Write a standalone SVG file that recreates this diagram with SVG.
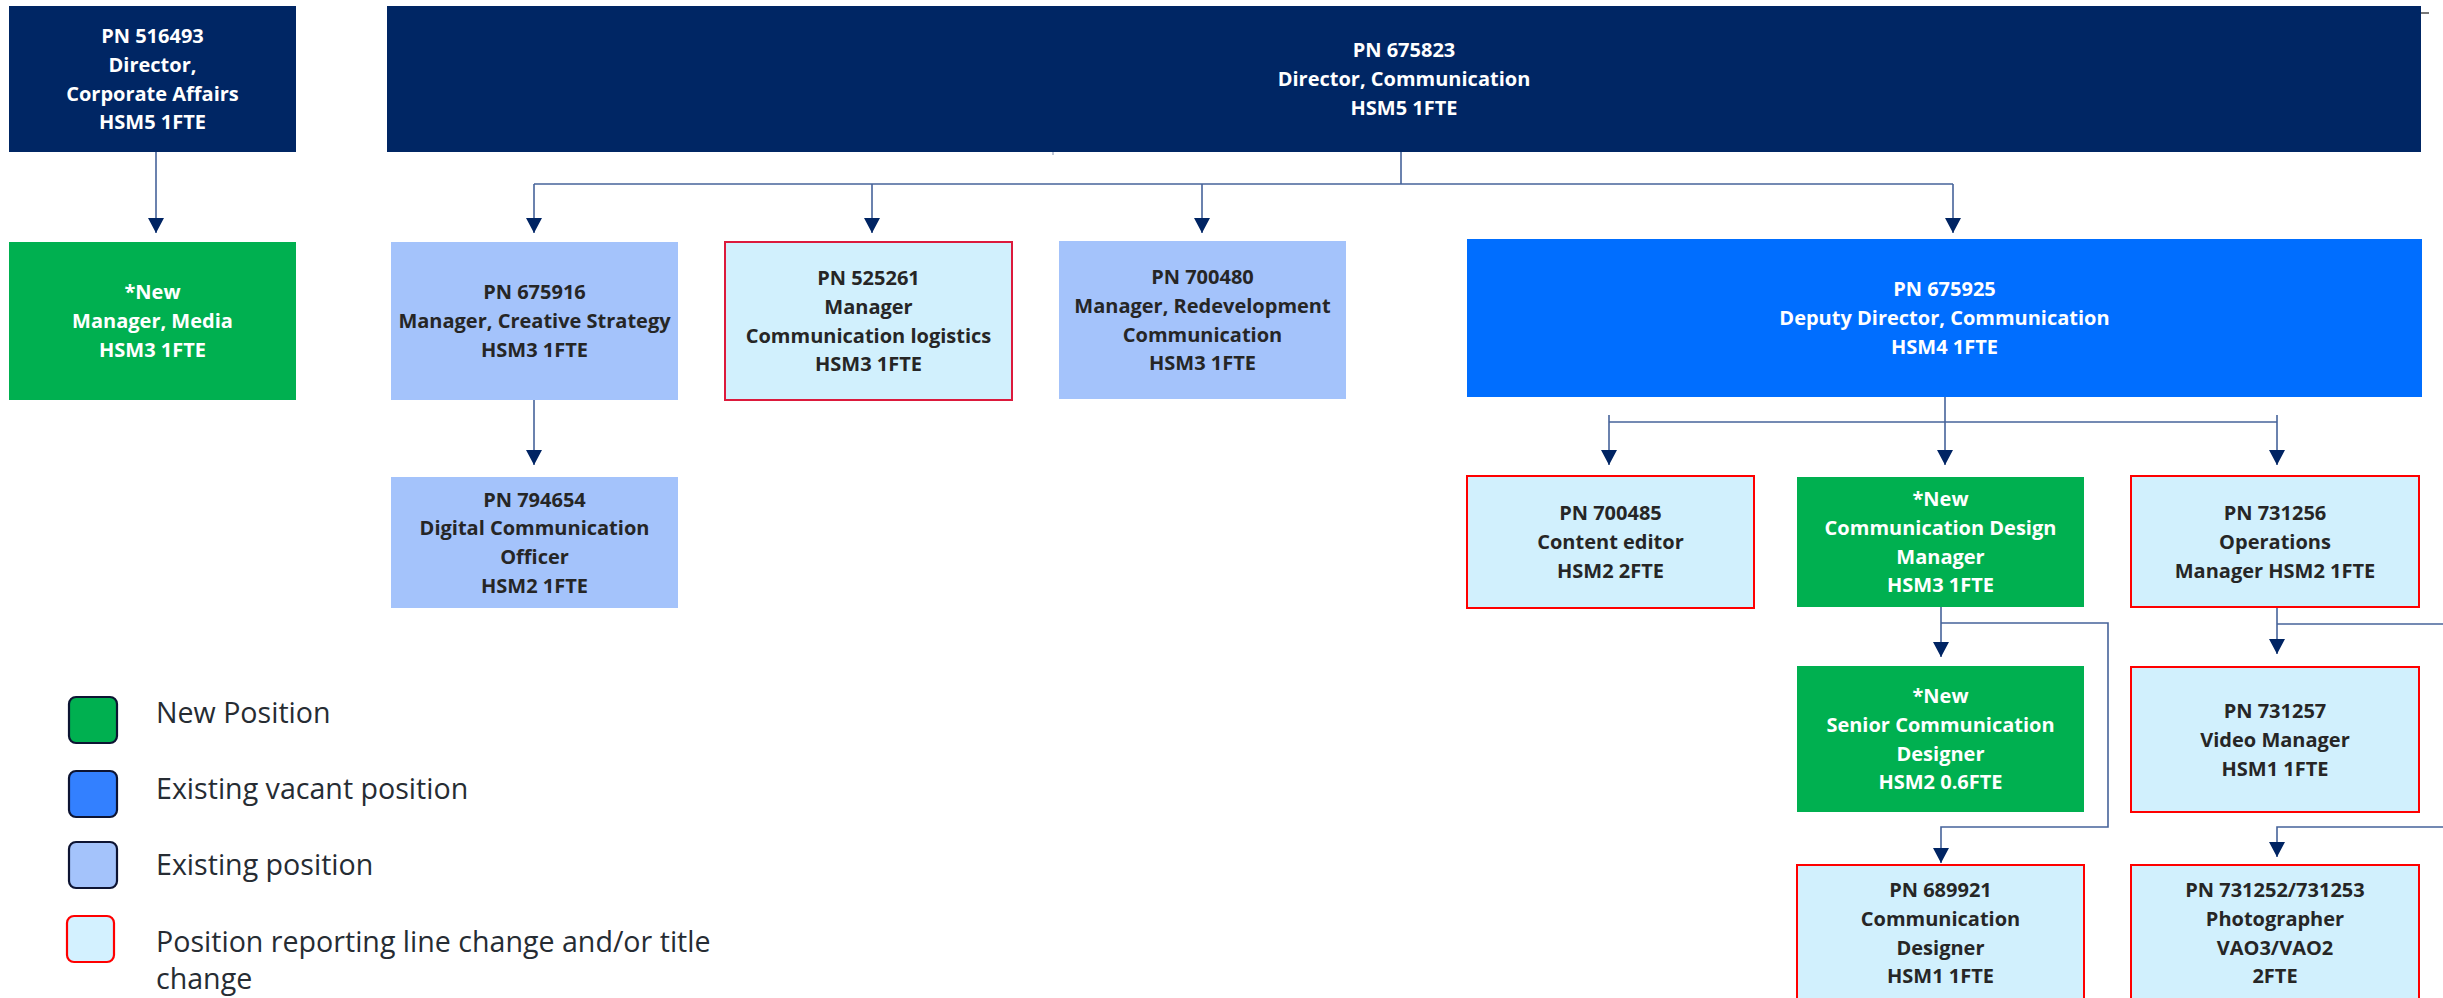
<svg xmlns="http://www.w3.org/2000/svg" width="2443" height="998" viewBox="0 0 2443 998">
<style>
.t{font-family:"Open Sans","Liberation Sans",sans-serif;font-weight:700;font-size:20px;text-anchor:middle}
.w{fill:#ffffff}
.d{fill:#262626}
.navy{fill:#002664}
.green{fill:#00B050}
.exist{fill:#A4C3FB}
.vac{fill:#006EFF}
.chg{fill:#D1F0FD;stroke:#FF0000;stroke-width:2}
.con{fill:none;stroke:#46639A;stroke-width:1.6}
.lg{font-family:"Open Sans","Liberation Sans",sans-serif;font-size:28.6px;fill:#262C33}
.sw{stroke:#0D1433;stroke-width:2.2}
</style>
<defs>
<marker id="ah" markerUnits="userSpaceOnUse" viewBox="0 0 15 16" refX="15" refY="8" markerWidth="15" markerHeight="16" orient="auto">
<path d="M0,0 L15,8 L0,16 z" fill="#002463"/>
</marker>
</defs>
<rect width="2443" height="998" fill="#ffffff"/>

<g id="connectors">
<path class="con" d="M156,152 V233" marker-end="url(#ah)"/>
<path class="con" d="M1401,152 V184"/>
<path class="con" d="M534,184 H1953"/>
<path class="con" d="M534,184 V233" marker-end="url(#ah)"/>
<path class="con" d="M872,184 V233" marker-end="url(#ah)"/>
<path class="con" d="M1202,184 V233" marker-end="url(#ah)"/>
<path class="con" d="M1953,184 V233" marker-end="url(#ah)"/>
<path class="con" d="M534,400 V465" marker-end="url(#ah)"/>
<path class="con" d="M1945,397 V465" marker-end="url(#ah)"/>
<path class="con" d="M1609,422 H2277"/>
<path class="con" d="M1609,415 V465" marker-end="url(#ah)"/>
<path class="con" d="M2277,415 V465" marker-end="url(#ah)"/>
<path class="con" d="M1941,607 V657" marker-end="url(#ah)"/>
<path class="con" d="M1941,623 H2108 V827 H1941 V863" marker-end="url(#ah)"/>
<path class="con" d="M2277,607 V654" marker-end="url(#ah)"/>
<path class="con" d="M2277,624 H2443"/>
<path class="con" d="M2443,827 H2277 V857" marker-end="url(#ah)"/>
<path d="M2421,13 H2429" stroke="#777777" stroke-width="2"/>
<path d="M1053,152 V155" stroke="#8090B0" stroke-width="1"/>
</g>

<g id="n516493">
<rect class="navy" x="9" y="6" width="287" height="146"/>
<text class="t w" x="152.5" y="43"><tspan x="152.5">PN 516493</tspan><tspan x="152.5" dy="28.8">Director,</tspan><tspan x="152.5" dy="28.8">Corporate Affairs</tspan><tspan x="152.5" dy="28.8">HSM5 1FTE</tspan></text>
</g>

<g id="n675823">
<rect class="navy" x="387" y="6" width="2034" height="146"/>
<text class="t w" x="1404" y="57.4"><tspan x="1404">PN 675823</tspan><tspan x="1404" dy="28.8">Director, Communication</tspan><tspan x="1404" dy="28.8">HSM5 1FTE</tspan></text>
</g>

<g id="nMedia">
<rect class="green" x="9" y="242" width="287" height="158"/>
<text class="t w" x="152.5" y="299.4"><tspan x="152.5">*New</tspan><tspan x="152.5" dy="28.8">Manager, Media</tspan><tspan x="152.5" dy="28.8">HSM3 1FTE</tspan></text>
</g>

<g id="n675916">
<rect class="exist" x="391" y="242" width="287" height="158"/>
<text class="t d" x="534.5" y="299.4"><tspan x="534.5">PN 675916</tspan><tspan x="534.5" dy="28.8">Manager, Creative Strategy</tspan><tspan x="534.5" dy="28.8">HSM3 1FTE</tspan></text>
</g>

<g id="n525261">
<rect class="chg" x="725" y="242" width="287" height="158" style="stroke:#DC1A3C"/>
<text class="t d" x="868.5" y="285"><tspan x="868.5">PN 525261</tspan><tspan x="868.5" dy="28.8">Manager</tspan><tspan x="868.5" dy="28.8">Communication logistics</tspan><tspan x="868.5" dy="28.8">HSM3 1FTE</tspan></text>
</g>

<g id="n700480">
<rect class="exist" x="1059" y="241" width="287" height="158"/>
<text class="t d" x="1202.5" y="284"><tspan x="1202.5">PN 700480</tspan><tspan x="1202.5" dy="28.8">Manager, Redevelopment</tspan><tspan x="1202.5" dy="28.8">Communication</tspan><tspan x="1202.5" dy="28.8">HSM3 1FTE</tspan></text>
</g>

<g id="n675925">
<rect class="vac" x="1467" y="239" width="955" height="158"/>
<text class="t w" x="1944.5" y="296.4"><tspan x="1944.5">PN 675925</tspan><tspan x="1944.5" dy="28.8">Deputy Director, Communication</tspan><tspan x="1944.5" dy="28.8">HSM4 1FTE</tspan></text>
</g>

<g id="n794654">
<rect class="exist" x="391" y="477" width="287" height="131"/>
<text class="t d" x="534.5" y="506.5"><tspan x="534.5">PN 794654</tspan><tspan x="534.5" dy="28.8">Digital Communication</tspan><tspan x="534.5" dy="28.8">Officer</tspan><tspan x="534.5" dy="28.8">HSM2 1FTE</tspan></text>
</g>

<g id="n700485">
<rect class="chg" x="1467" y="476" width="287" height="132"/>
<text class="t d" x="1610.5" y="520.4"><tspan x="1610.5">PN 700485</tspan><tspan x="1610.5" dy="28.8">Content editor</tspan><tspan x="1610.5" dy="28.8">HSM2 2FTE</tspan></text>
</g>

<g id="nCDM">
<rect class="green" x="1797" y="477" width="287" height="130"/>
<text class="t w" x="1940.5" y="506"><tspan x="1940.5">*New</tspan><tspan x="1940.5" dy="28.8">Communication Design</tspan><tspan x="1940.5" dy="28.8">Manager</tspan><tspan x="1940.5" dy="28.8">HSM3 1FTE</tspan></text>
</g>

<g id="n731256">
<rect class="chg" x="2131" y="476" width="288" height="131"/>
<text class="t d" x="2275" y="519.9"><tspan x="2275">PN 731256</tspan><tspan x="2275" dy="28.8">Operations</tspan><tspan x="2275" dy="28.8">Manager HSM2 1FTE</tspan></text>
</g>

<g id="nSenior">
<rect class="green" x="1797" y="666" width="287" height="146"/>
<text class="t w" x="1940.5" y="703"><tspan x="1940.5">*New</tspan><tspan x="1940.5" dy="28.8">Senior Communication</tspan><tspan x="1940.5" dy="28.8">Designer</tspan><tspan x="1940.5" dy="28.8">HSM2 0.6FTE</tspan></text>
</g>

<g id="n731257">
<rect class="chg" x="2131" y="667" width="288" height="145"/>
<text class="t d" x="2275" y="717.9"><tspan x="2275">PN 731257</tspan><tspan x="2275" dy="28.8">Video Manager</tspan><tspan x="2275" dy="28.8">HSM1 1FTE</tspan></text>
</g>

<g id="n689921">
<rect class="chg" x="1797" y="865" width="287" height="140"/>
<text class="t d" x="1940.5" y="897"><tspan x="1940.5">PN 689921</tspan><tspan x="1940.5" dy="28.8">Communication</tspan><tspan x="1940.5" dy="28.8">Designer</tspan><tspan x="1940.5" dy="28.8">HSM1 1FTE</tspan></text>
</g>

<g id="n731252">
<rect class="chg" x="2131" y="865" width="288" height="140"/>
<text class="t d" x="2275" y="897"><tspan x="2275">PN 731252/731253</tspan><tspan x="2275" dy="28.8">Photographer</tspan><tspan x="2275" dy="28.8">VAO3/VAO2</tspan><tspan x="2275" dy="28.8">2FTE</tspan></text>
</g>

<g id="legend">
<rect class="sw" x="69" y="697" width="48" height="46" rx="7" fill="#00B050"/>
<text class="lg" x="156" y="723">New Position</text>
<rect class="sw" x="69" y="771" width="48" height="46" rx="7" fill="#3380FF"/>
<text class="lg" x="156" y="799">Existing vacant position</text>
<rect class="sw" x="69" y="842" width="48" height="46" rx="7" fill="#A4C3FB"/>
<text class="lg" x="156" y="875">Existing position</text>
<rect x="67" y="916" width="47" height="46" rx="7" fill="#D3F1FF" stroke="#FF0000" stroke-width="2.2"/>
<text class="lg" x="156" y="952">Position reporting line change and/or title</text>
<text class="lg" x="156" y="989">change</text>
</g>
</svg>
